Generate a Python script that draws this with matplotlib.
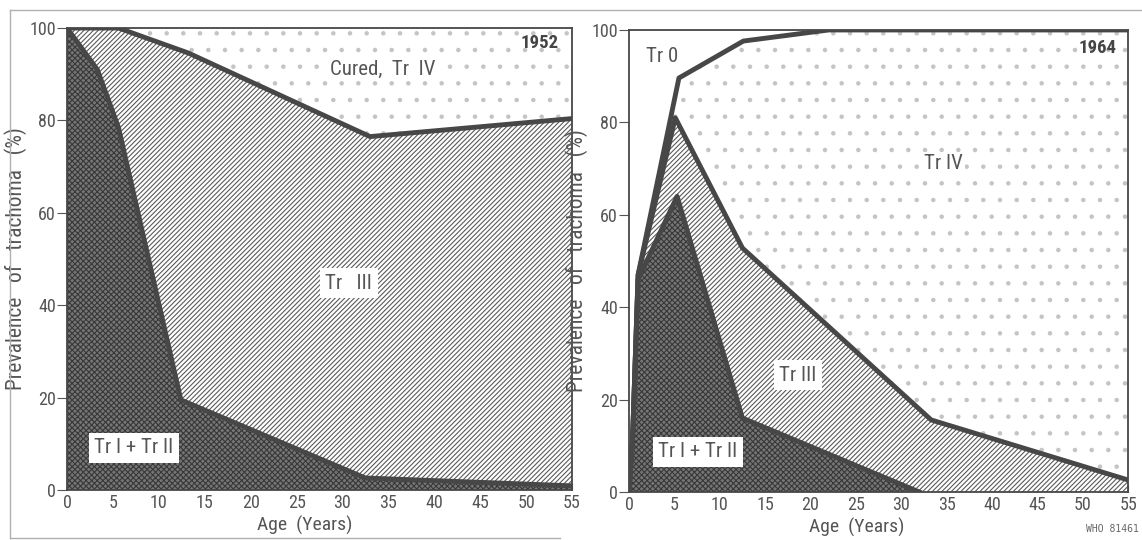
import matplotlib
matplotlib.use("Agg")
import matplotlib.pyplot as plt
from matplotlib.lines import Line2D

plt.rcParams['font.family'] = ['Roboto Condensed', 'Roboto', 'DejaVu Sans']
plt.rcParams['hatch.linewidth'] = 0.8

# 1952 survey (cumulative % of children)
age52_tr12 = [0, 3.3, 5.6, 12.4, 32.5, 55]
tr12_52 = [100, 91, 78.5, 19.5, 2.6, 0.9]
age52_tr3 = [0, 5.6, 13.2, 33, 55]
tr3_52 = [100, 100, 94.6, 76.5, 80.4]

# 1964 survey (cumulative % of children)
age64_tr12 = [0, 0.4, 1, 5.3, 12.5, 32]
tr12_64 = [0, 12, 46, 64, 16, 0]
age64_tr3 = [0, 0.4, 1, 5.1, 12.5, 33.3, 55]
tr3_64 = [0, 12, 47, 81, 52.8, 15.6, 2.6]
age64_tr4 = [0, 0.4, 1, 5.5, 12.6, 22, 55]
tr4_64 = [0, 12, 47, 89.6, 97.6, 100, 100]

xticks = list(range(0, 60, 5))
yticks = [0, 20, 40, 60, 80, 100]

TXT = '#555555'
LINE = '#474747'

fig = plt.figure(figsize=(11.42, 5.4), dpi=100)
ax1 = fig.add_axes([0.0587, 0.0926, 0.4422, 0.8555])
ax2 = fig.add_axes([0.5508, 0.0889, 0.4370, 0.8556])


def dots(ax, x, y):
    ax.fill_between(x, 0, y, facecolor='white', edgecolor='#c4c4c4',
                    hatch='.', linewidth=0, zorder=1)


def stripes(ax, x, y):
    ax.fill_between(x, 0, y, facecolor='white', edgecolor='#5a5a5a',
                    hatch='///////', linewidth=0, zorder=2)


def dark(ax, x, y):
    ax.fill_between(x, 0, y, facecolor='#767676', edgecolor='#383838',
                    hatch='xxxxxx', linewidth=0, zorder=3)


def style(ax, xlab_pos):
    ax.set_xlim(0, 55)
    ax.set_ylim(0, 100)
    ax.set_xticks(xticks)
    ax.set_yticks(yticks)
    ax.tick_params(axis='x', direction='in', length=5, color=TXT,
                   labelsize=13, labelcolor=TXT, pad=3)
    ax.tick_params(axis='y', direction='out', length=7, color=TXT,
                   labelsize=13, labelcolor=TXT, pad=1)
    for s in ax.spines.values():
        s.set_color(LINE)
        s.set_linewidth(1.3)
        s.set_zorder(6)
    ax.set_xlabel('Age  (Years)', fontsize=14, color=TXT)
    ax.xaxis.set_label_coords(xlab_pos, -0.055)
    ax.set_ylabel('Prevalence   of   trachoma   (%)', fontsize=15.5, color=TXT,
                  labelpad=2)


box = dict(boxstyle='square,pad=0.25', facecolor='white', edgecolor='none')
clear = dict(boxstyle='square,pad=0.1', facecolor='white', edgecolor='none')

# left panel: 1952
dots(ax1, [0, 55], [100, 100])
stripes(ax1, age52_tr3, tr3_52)
dark(ax1, age52_tr12, tr12_52)
ax1.plot(age52_tr3, tr3_52, color=LINE, lw=3.5, zorder=5)
ax1.plot(age52_tr12, tr12_52, color=LINE, lw=3.5, zorder=5)
style(ax1, 0.47)
ax1.text(51.5, 96.7, '1952', fontsize=13.5, fontweight='bold', color='#444444',
         ha='center', va='center', zorder=7)
ax1.text(34.4, 91, 'Cured,  Tr  IV', fontsize=15, color=TXT, ha='center',
         va='center', zorder=7, bbox=clear)
ax1.text(30.7, 44.8, 'Tr   III', fontsize=15, color=TXT, ha='center',
         va='center', zorder=7, bbox=box)
ax1.text(7.3, 9.1, 'Tr I + Tr II', fontsize=15, color=TXT, ha='center',
         va='center', zorder=7, bbox=box)

# right panel: 1964
dots(ax2, age64_tr4, tr4_64)
stripes(ax2, age64_tr3, tr3_64)
dark(ax2, age64_tr12, tr12_64)
ax2.plot(age64_tr4, tr4_64, color=LINE, lw=3.5, zorder=5)
ax2.plot(age64_tr3, tr3_64, color=LINE, lw=3.5, zorder=5)
ax2.plot(age64_tr12, tr12_64, color=LINE, lw=3.5, zorder=5)
style(ax2, 0.457)
ax2.text(51.6, 96, '1964', fontsize=13.5, fontweight='bold', color='#444444',
         ha='center', va='center', zorder=7)
ax2.text(3.7, 94.2, 'Tr 0', fontsize=15, color=TXT, ha='center', va='center', zorder=7)
ax2.text(34.7, 71, 'Tr IV', fontsize=15, color=TXT, ha='center', va='center',
         zorder=7, bbox=clear)
ax2.text(18.6, 25.3, 'Tr III', fontsize=15, color=TXT, ha='center',
         va='center', zorder=7, bbox=box)
ax2.text(7.6, 8.7, 'Tr I + Tr II', fontsize=15, color=TXT, ha='center',
         va='center', zorder=7, bbox=box)

# scanned page frame
fc = '#b0b0b0'
fig.add_artist(Line2D([10 / 1142, 1], [1 - 10 / 540] * 2, color=fc, lw=1))
fig.add_artist(Line2D([10 / 1142] * 2, [2 / 540, 1 - 10 / 540], color=fc, lw=1))
fig.add_artist(Line2D([10 / 1142, 560 / 1142], [2 / 540] * 2, color=fc, lw=1))

fig.text(0.997, 0.012, 'WHO 81461', fontsize=7, color='#666666',
         family='DejaVu Sans Mono', ha='right', va='bottom')

fig.savefig('out.png', dpi=100)
